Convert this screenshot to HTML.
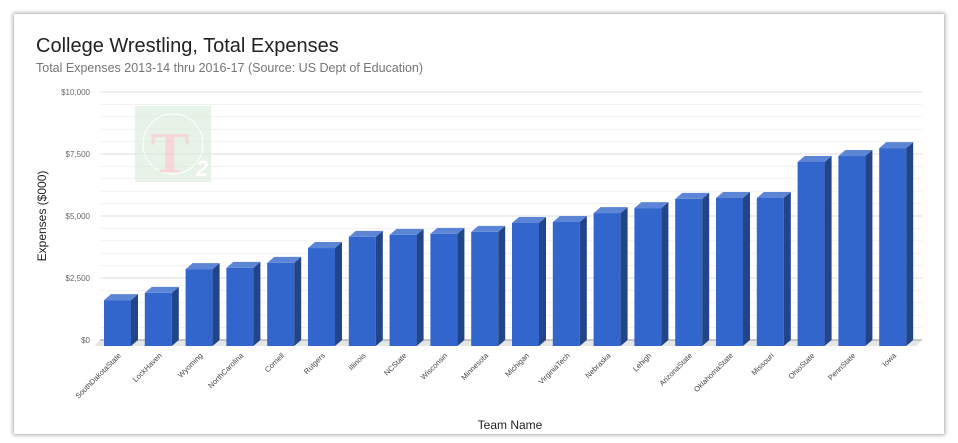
<!DOCTYPE html>
<html><head><meta charset="utf-8"><style>
body{margin:0;background:#fff;width:958px;height:443px;overflow:hidden;font-family:"Liberation Sans",Arial,sans-serif}
#card{position:absolute;left:14px;top:14px;width:930px;height:420px;background:#fff;box-shadow:0 0 4px 1px rgba(0,0,0,0.35)}
</style></head><body>
<div id="card"></div>
<svg id="c" width="958" height="443" style="position:absolute;left:0;top:0">
<text x="36" y="52" font-size="20" fill="#222">College Wrestling, Total Expenses</text>
<text x="36" y="72" font-size="12.5" fill="#757575">Total Expenses 2013-14 thru 2016-17 (Source: US Dept of Education)</text>
<text transform="translate(46,216) rotate(-90)" text-anchor="middle" font-size="12" fill="#222">Expenses ($000)</text>
<text x="510" y="429" text-anchor="middle" font-size="12" fill="#222">Team Name</text>
<g id="grid"></g>
<g opacity="0.55">
<rect x="135" y="106" width="76" height="76" fill="#d6ead6"/>
<circle cx="173" cy="144" r="30" fill="none" stroke="#fff" stroke-width="1"/>
<text x="170" y="172" text-anchor="middle" font-family="Liberation Serif,serif" font-weight="bold" font-size="58" fill="#f0b8b8">T</text>
<text x="196" y="176" font-size="22" font-style="italic" font-weight="bold" fill="#fff">2</text>
</g>
<g id="bars"></g>
<g id="labels"></g>
</svg>
<script>
const categories=["SouthDakotaState","LockHaven","Wyoming","NorthCarolina","Cornell","Rutgers","Illinois","NCState","Wisconsin","Minnesota","Michigan","VirginiaTech","Nebraska","Lehigh","ArizonaState","OklahomaState","Missouri","OhioState","PennState","Iowa"];
const values=[1850,2140,3100,3150,3350,3950,4400,4480,4520,4600,4960,5000,5360,5560,5930,5970,5970,7420,7660,7980];
const tickValues=[0,2500,5000,7500,10000];
const tickLabels=["$0","$2,500","$5,000","$7,500","$10,000"];
const NS="http://www.w3.org/2000/svg";
const y0=340,y1=92,vmax=10000;
function y(v){return y0-(v/vmax)*(y0-y1);}
const xL=100,xR=922,step=40.8,bw=27,dx=7,dy=6;
function x(i){return 104+i*step;}
function mk(t,a,p){const e=document.createElementNS(NS,t);for(const k in a)e.setAttribute(k,a[k]);p.appendChild(e);return e;}
const grid=document.getElementById('grid');
// floor
const fl=mk('polygon',{points:`${xL-6},${y0+6} ${xR-6},${y0+6} ${xR},${y0} ${xL},${y0}`,fill:'#e6e6e6'},grid);


for(let v=500;v<vmax;v+=500){if(v%2500===0)continue;const l=mk('line',{x1:xL,x2:xR,y1:y(v),y2:y(v),stroke:'#f1f1f1','stroke-width':1},grid);

}
tickValues.forEach((v,i)=>{const l=mk('line',{x1:xL,x2:xR,y1:y(v),y2:y(v),stroke:v===0?'#999':'#ddd','stroke-width':1},grid);


const t=mk('text',{x:90,y:y(v)+3,'text-anchor':'end','font-size':'8','fill':'#666'},grid);t.textContent=tickLabels[i];

});
const bars=document.getElementById('bars'),labels=document.getElementById('labels');
values.forEach((v,i)=>{const g=mk('g',{},bars);


const X=x(i),T=y(v)+dy,B=y0+6;
mk('rect',{x:X,y:T,width:bw,height:B-T,fill:'#3366cc'},g);
mk('polygon',{points:`${X+bw},${T} ${X+bw+dx},${T-dy} ${X+bw+dx},${B-dy} ${X+bw},${B}`,fill:'#224488'},g);
mk('polygon',{points:`${X},${T} ${X+dx},${T-dy} ${X+bw+dx},${T-dy} ${X+bw},${T}`,fill:'#5c85d6'},g);
const cx=X+bw/2+4,cy=356;
const t=mk('text',{x:cx,y:cy,'text-anchor':'end','font-size':'7.5','fill':'#444',transform:`rotate(-45 ${cx} ${cy})`},labels);
t.textContent=categories[i];

});
</script>
</body></html>
